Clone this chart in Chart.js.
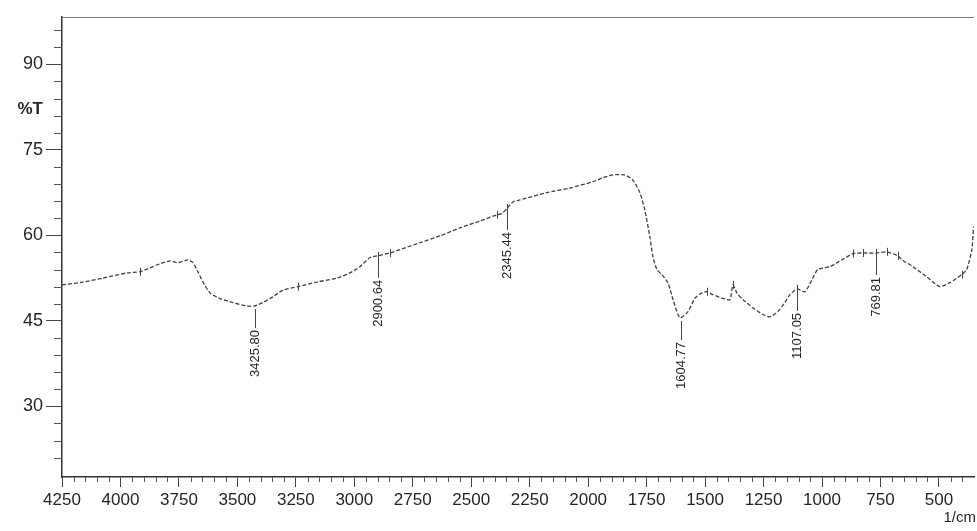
<!DOCTYPE html>
<html>
<head>
<meta charset="utf-8">
<script src="https://cdn.jsdelivr.net/npm/chart.js@4"></script>
<style>
  html, body { margin: 0; padding: 0; background: #ffffff; }
  #wrap { width: 977px; height: 531px; }
</style>
</head>
<body>
<div id="wrap"><canvas id="ir"></canvas></div>
<script>
// IR transmission spectrum, wavenumber (1/cm) vs %T
const wavenumber = [
  4250, 4160, 4075, 3972, 3917, 3874, 3831, 3788, 3754, 3711, 3690, 3669, 3647, 3617,
  3574, 3519, 3459, 3425.8, 3391, 3348, 3305, 3241, 3160, 3074, 3019, 2976, 2933,
  2900.64, 2848, 2783, 2719, 2634, 2548, 2463, 2390, 2370, 2345.44, 2320, 2292, 2176,
  2078, 1980, 1937, 1894, 1843, 1809, 1779, 1758, 1736, 1723, 1706, 1685, 1659, 1637,
  1616, 1604.77, 1573, 1543, 1514, 1492, 1467, 1428, 1394, 1381, 1364, 1338, 1296,
  1253, 1223, 1189, 1159, 1137, 1107.05, 1073, 1043, 1018, 966, 915, 868, 825, 769.81,
  723, 675, 658, 611, 552, 496, 453, 402, 381, 359, 352
];
const transmittance = [
  51.3, 51.8, 52.5, 53.4, 53.6, 54.3, 55.0, 55.5, 55.2, 55.7, 55.2, 53.6, 51.8, 49.9,
  48.9, 48.2, 47.6, 47.6, 48.2, 49.2, 50.4, 51.0, 51.8, 52.5, 53.4, 54.5, 56.1,
  56.4, 56.9, 57.8, 58.7, 59.9, 61.3, 62.5, 63.6, 63.8, 64.8, 65.9, 66.2, 67.5,
  68.3, 69.4, 70.1, 70.6, 70.6, 69.7, 67.5, 64.5, 59.7, 56.2, 54.0, 53.1, 51.7, 48.7,
  46.1, 45.5, 46.6, 49.0, 49.9, 50.1, 49.6, 49.0, 48.7, 51.3, 49.9, 48.7, 47.3,
  46.1, 45.7, 46.6, 48.2, 49.6, 50.6, 50.1, 52.2, 54.0, 54.5, 55.7, 56.8, 56.9, 56.9,
  57.1, 56.4, 55.7, 54.5, 52.7, 51.0, 51.7, 53.1, 54.0, 57.5, 61.5
];

// axis tick labels
const xTickLabels = [4250, 4000, 3750, 3500, 3250, 3000, 2750, 2500, 2250, 2000, 1750, 1500, 1250, 1000, 750, 500];
const yTickLabels = [30, 45, 60, 75, 90];

// annotated peaks and small peak marks on the trace
const peakPositions = [3425.8, 2900.64, 2345.44, 1604.77, 1107.05, 769.81];
const peakLabels = ['3425.80', '2900.64', '2345.44', '1604.77', '1107.05', '769.81'];
const peakMarks = [3917, 3241, 2900.64, 2848, 2390, 2345.44, 1492, 1381, 1107.05, 868, 825, 769.81, 723, 675, 402];

const INK = '#262626';
const FONT = "'Liberation Sans', Arial, sans-serif";

const valueAt = wn => transmittance[wavenumber.indexOf(wn)];

const irAnnotations = {
  id: 'irAnnotations',
  afterDatasetsDraw(chart) {
    const { ctx, chartArea: a, scales: { x, y } } = chart;
    ctx.save();
    ctx.lineWidth = 1;

    // top frame line
    ctx.strokeStyle = '#777';
    ctx.beginPath();
    ctx.moveTo(a.left, a.top + 0.5);
    ctx.lineTo(a.right, a.top + 0.5);
    ctx.stroke();

    // minor ticks on the wavenumber axis (every 50)
    ctx.strokeStyle = '#555';
    for (let wn = 4200; wn >= 400; wn -= 50) {
      if (wn % 250 === 0) continue;
      const px = Math.round(x.getPixelForValue(wn)) + 0.5;
      ctx.beginPath();
      ctx.moveTo(px, a.bottom);
      ctx.lineTo(px, a.bottom + 5);
      ctx.stroke();
    }
    // minor ticks on the %T axis (every 3)
    for (let t = 21; t <= 96; t += 3) {
      if (t % 15 === 0) continue;
      const py = Math.round(y.getPixelForValue(t)) + 0.5;
      ctx.beginPath();
      ctx.moveTo(a.left - 8, py);
      ctx.lineTo(a.left, py);
      ctx.stroke();
    }

    // small vertical marks across the trace
    ctx.strokeStyle = '#444';
    peakMarks.forEach(wn => {
      const px = Math.round(x.getPixelForValue(wn)) + 0.5;
      const py = y.getPixelForValue(valueAt(wn));
      ctx.beginPath();
      ctx.moveTo(px, py - 4);
      ctx.lineTo(px, py + 4);
      ctx.stroke();
    });

    // peak labels: leader line below the trace, rotated value text
    ctx.fillStyle = INK;
    ctx.font = "13px " + FONT;
    peakPositions.forEach((wn, i) => {
      const px = Math.round(x.getPixelForValue(wn)) + 0.5;
      const py = y.getPixelForValue(valueAt(wn));
      ctx.beginPath();
      ctx.moveTo(px, py + 3);
      ctx.lineTo(px, py + 22);
      ctx.stroke();
      ctx.save();
      ctx.translate(px, py + 24);
      ctx.rotate(-Math.PI / 2);
      ctx.textAlign = 'right';
      ctx.textBaseline = 'middle';
      ctx.fillText(peakLabels[i], 0, 0);
      ctx.restore();
    });

    // axis titles
    ctx.font = "bold 17px " + FONT;
    ctx.textAlign = 'right';
    ctx.textBaseline = 'middle';
    ctx.fillText('%T', a.left - 19, y.getPixelForValue(81) - 6);
    ctx.font = "15px " + FONT;
    ctx.fillText('1/cm', a.right + 2, a.bottom + 41);
    ctx.restore();
  }
};

new Chart(document.getElementById('ir'), {
  type: 'line',
  data: {
    datasets: [{
      data: wavenumber.map((wn, i) => ({ x: wn, y: transmittance[i] })),
      borderColor: '#404040',
      borderWidth: 1.3,
      borderDash: [4, 2],
      pointRadius: 0,
      tension: 0.2,
      fill: false
    }]
  },
  options: {
    responsive: true,
    maintainAspectRatio: false,
    animation: false,
    layout: { padding: { left: 0, right: 3, top: 17, bottom: 0 } },
    plugins: { legend: { display: false }, tooltip: { enabled: false } },
    scales: {
      x: {
        type: 'linear',
        reverse: true,
        min: 350,
        max: 4250,
        afterFit: s => { s.height = 54; },
        afterBuildTicks: s => { s.ticks = xTickLabels.map(v => ({ value: v })); },
        grid: { drawOnChartArea: false, tickLength: 10, color: '#444', tickWidth: 1 },
        border: { display: true, color: '#333', width: 1.5 },
        ticks: {
          autoSkip: false,
          maxRotation: 0,
          padding: 3,
          color: INK,
          font: { family: FONT, size: 17 },
          callback: v => String(v)
        }
      },
      y: {
        type: 'linear',
        min: 17.6,
        max: 98.3,
        afterFit: s => { s.width = 62; },
        afterBuildTicks: s => { s.ticks = yTickLabels.map(v => ({ value: v })); },
        grid: { drawOnChartArea: false, tickLength: 16, color: '#444', tickWidth: 1 },
        border: { display: true, color: '#333', width: 1.5 },
        ticks: {
          padding: 3,
          color: INK,
          font: { family: FONT, size: 18 },
          callback: v => String(v)
        }
      }
    }
  },
  plugins: [irAnnotations]
});
</script>
</body>
</html>
